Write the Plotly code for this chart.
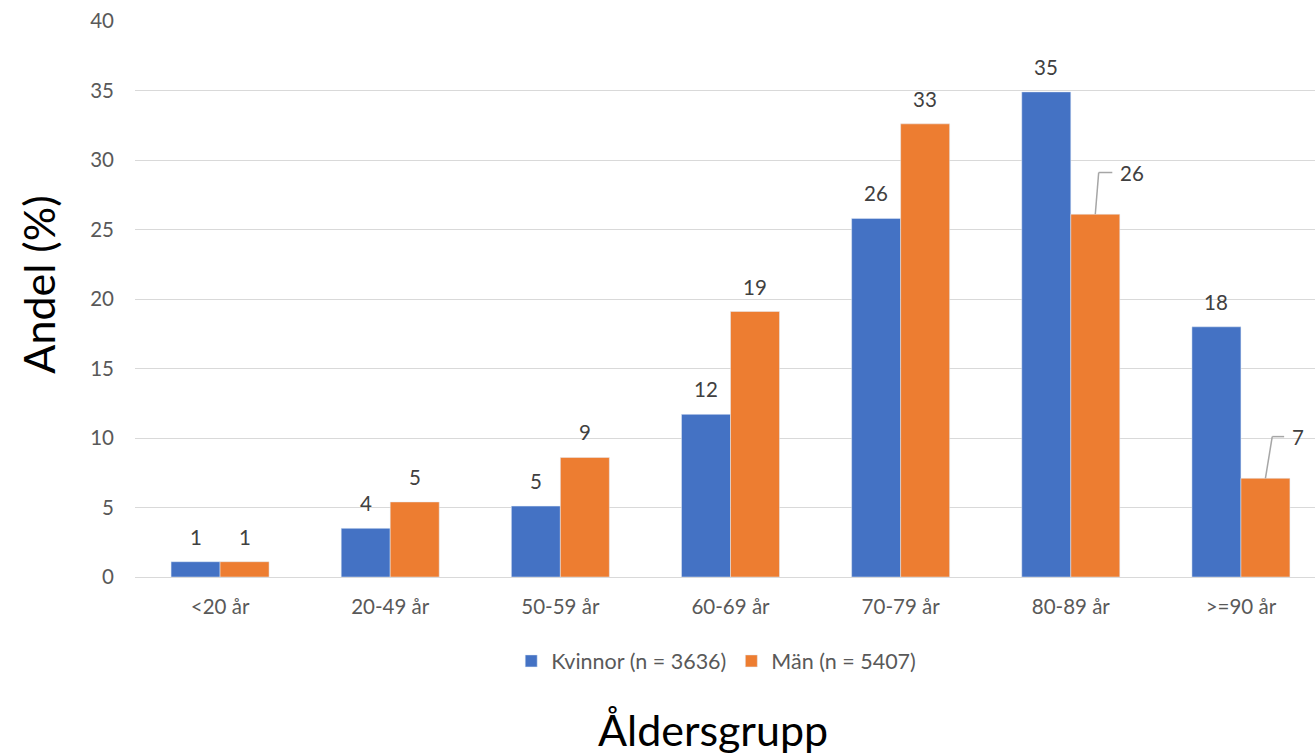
import plotly.graph_objects as go

categories = ["<20 år", "20-49 år", "50-59 år", "60-69 år", "70-79 år", "80-89 år", ">=90 år"]
kvinnor = [1.1, 3.5, 5.1, 11.7, 25.8, 34.9, 18.0]
man = [1.1, 5.4, 8.6, 19.1, 32.6, 26.1, 7.1]
kvinnor_name = "Kvinnor (n = 3636)"
man_name = "Män (n = 5407)"
y_ticks = [0, 5, 10, 15, 20, 25, 30, 35, 40]

BLUE = "#4472C4"
ORANGE = "#ED7D31"
FONT = "Lato"
FS = 20.5
BARGAP = 0.424
half = (1 - BARGAP) / 4  # offset of each bar center from category center

fig = go.Figure()
fig.add_trace(go.Bar(x=categories, y=kvinnor, name=kvinnor_name, marker_color=BLUE))
fig.add_trace(go.Bar(x=categories, y=man, name=man_name, marker_color=ORANGE))

# leader-line labels: (bottom dx, top dx, horizontal length, rise) relative to bar center
leader = {5: (0.0, 0.02, 0.08, 3.0), 6: (0.0, 0.04, 0.07, 3.0)}

annotations = []
for i, (k, m) in enumerate(zip(kvinnor, man)):
    annotations.append(dict(x=i - half, y=k, xref="x", yref="y", text=str(round(k)),
                            showarrow=False, yshift=25,
                            font=dict(size=FS, color="#404040", family=FONT)))
    if i in leader:
        bdx, tdx, hl, dy = leader[i]
        xb = i + half + bdx
        xt = i + half + tdx
        xh = xt + hl
        yt = m + dy
        fig.add_shape(type="line", x0=xb, y0=m, x1=xt, y1=yt, xref="x", yref="y",
                      line=dict(color="#A6A6A6", width=1.5))
        fig.add_shape(type="line", x0=xt, y0=yt, x1=xh, y1=yt, xref="x", yref="y",
                      line=dict(color="#A6A6A6", width=1.5))
        annotations.append(dict(x=xh, y=yt, xref="x", yref="y", text=str(round(m)),
                                showarrow=False, xanchor="left", xshift=6,
                                font=dict(size=FS, color="#404040", family=FONT)))
    else:
        annotations.append(dict(x=i + half, y=m, xref="x", yref="y", text=str(round(m)),
                                showarrow=False, yshift=25,
                                font=dict(size=FS, color="#404040", family=FONT)))

annotations.append(dict(x=0.485, y=-0.275, xref="paper", yref="paper", text="Åldersgrupp",
                        showarrow=False, font=dict(size=43, color="#000000", family=FONT),
                        yanchor="middle"))
annotations.append(dict(x=-0.081, y=0.525, xref="paper", yref="paper", text="Andel (%)",
                        showarrow=False, textangle=-90,
                        font=dict(size=43, color="#000000", family=FONT),
                        xanchor="center", yanchor="middle"))

fig.update_layout(
    width=1326, height=754,
    margin=dict(l=135, r=0, t=21, b=177),
    paper_bgcolor="white", plot_bgcolor="white",
    barmode="group", bargap=BARGAP, bargroupgap=0,
    font=dict(family=FONT, size=FS, color="#595959"),
    showlegend=True,
    legend=dict(orientation="h", x=0.488, xanchor="center", y=-0.151, yanchor="middle",
                font=dict(size=21.5, color="#595959", family=FONT), itemwidth=30,
                traceorder="normal"),
    annotations=annotations,
)
fig.update_xaxes(showgrid=False, showline=False, ticks="", ticklabelstandoff=15,
                 tickfont=dict(size=FS, color="#595959"))
fig.update_yaxes(range=[0, 40], tickvals=y_ticks, showgrid=True, gridcolor="#D9D9D9",
                 gridwidth=1.3, zeroline=True, zerolinecolor="#D9D9D9", zerolinewidth=1.3,
                 showline=False, ticks="", ticklabelstandoff=20,
                 tickfont=dict(size=FS, color="#595959"))

fig.write_html("out.html", config={"displayModeBar": False},
               post_script="document.body.style.margin='0';document.body.style.overflow='hidden';")
